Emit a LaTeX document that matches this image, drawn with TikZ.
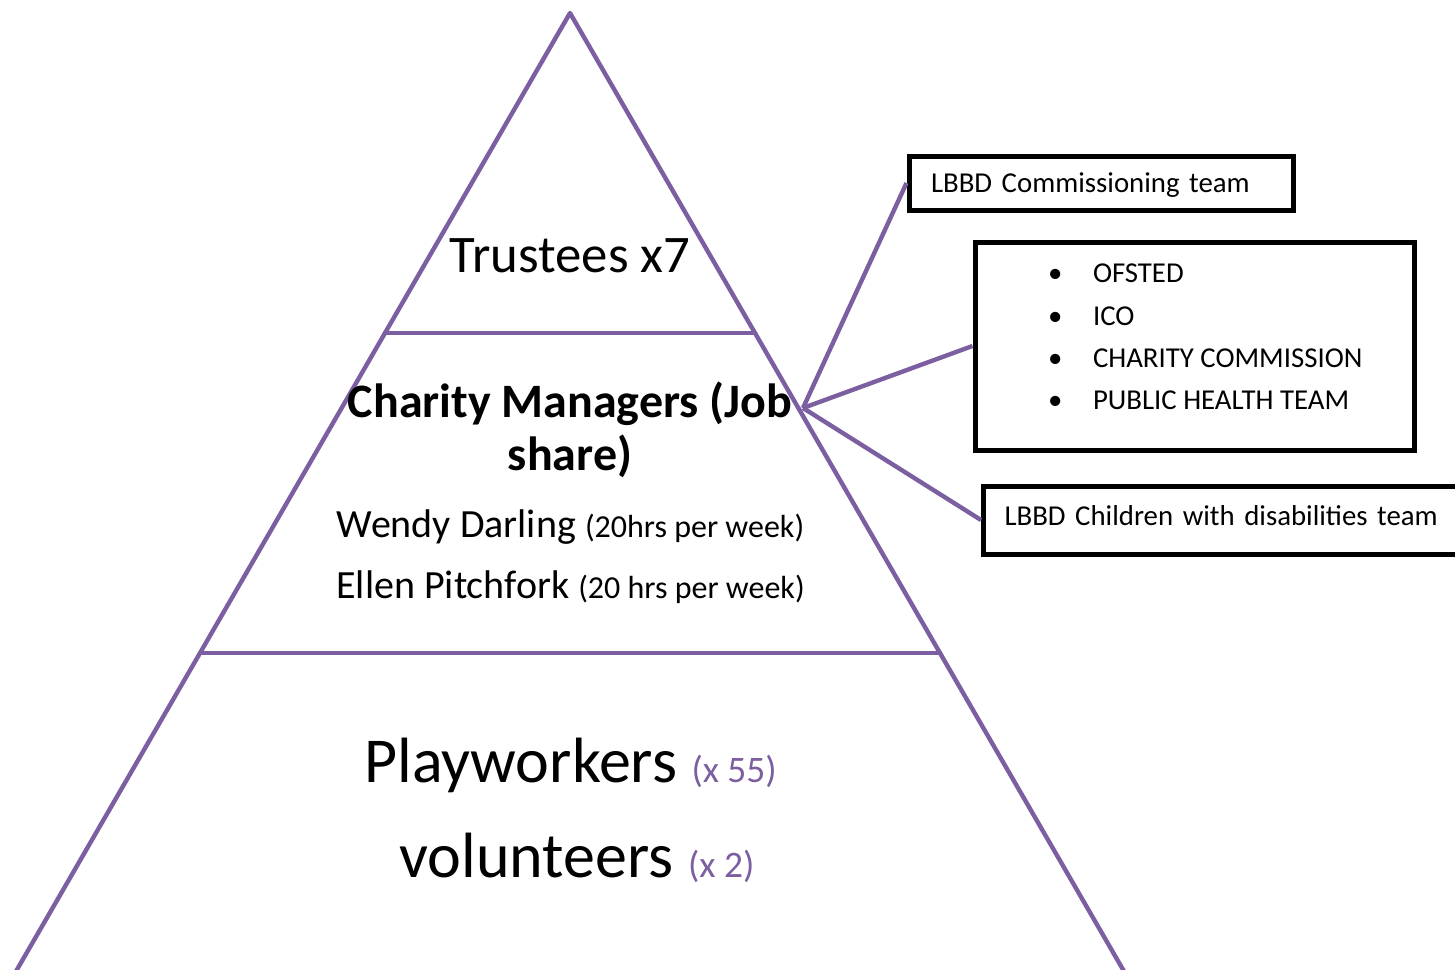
\documentclass[tikz,border=0pt]{standalone}
\usepackage{fontspec}
\setmainfont{Carlito}
\definecolor{pyr}{HTML}{7B5FA0}
\begin{document}
\begin{tikzpicture}[x=0.5pt,y=-0.5pt,
  pline/.style={draw=pyr, line width=2.2pt, line cap=round, line join=round},
  conn/.style={draw=pyr, line width=2.2pt},
  box/.style={draw=black, line width=2.5pt, rectangle, inner sep=0pt, anchor=west},
  boxfont/.style={font=\fontsize{14.4}{21.2}\selectfont},
  txt/.style={anchor=base, inner sep=0pt}]
\useasboundingbox (0,0) rectangle (1455,969);
\clip (0,0) rectangle (1455,969);
% pyramid
\draw[pline] (5.2,990) -- (570,13) -- (1134.8,990);
\draw[pline] (385,333) -- (755,333);
\draw[pline] (200,653) -- (940,653);
% pyramid texts
\node[txt, font=\fontsize{26.4}{31}\selectfont] (trustees) at (570,272) {Trustees x7};
\node[txt, align=center, font=\bfseries\fontsize{24}{26.5}\selectfont] (managers) at (570,470) {Charity Managers (Job\\share)};
\node[txt, font=\fontsize{20}{24}\selectfont] (wendy) at (570.5,537) {Wendy Darling {\fontsize{16}{19}\selectfont(20hrs per week)}};
\node[txt, font=\fontsize{20}{24}\selectfont] (ellen) at (570.5,598) {Ellen Pitchfork {\fontsize{16}{19}\selectfont(20 hrs per week)}};
\node[txt, font=\fontsize{32}{38}\selectfont] (play) at (570.5,782) {Playworkers {\fontsize{18.7}{22}\selectfont\color{pyr}(x 55)}};
\node[txt, font=\fontsize{32}{38}\selectfont] (vol) at (577,877) {volunteers {\fontsize{18.7}{22}\selectfont\color{pyr}(x 2)}};
% boxes
\node[box, boxfont, minimum width=192pt, minimum height=27pt, inner xsep=11pt, text width=170pt, align=left, text height=9.5pt, text depth=0pt] (commissioning) at (906.5,183) {LBBD Commissioning team};
\node[box, boxfont, minimum width=219.5pt, minimum height=104pt] (regulators) at (972.5,346) {\begin{minipage}{219.5pt}\raggedright
\hspace*{36.5pt}\makebox[22.5pt][l]{\textbullet}OFSTED\\
\hspace*{36.5pt}\makebox[22.5pt][l]{\textbullet}ICO\\
\hspace*{36.5pt}\makebox[22.5pt][l]{\textbullet}CHARITY COMMISSION\\
\hspace*{36.5pt}\makebox[22.5pt][l]{\textbullet}PUBLIC HEALTH TEAM\par\vspace{9pt}\end{minipage}};
\node[box, boxfont, minimum width=250pt, minimum height=34pt, inner xsep=10.5pt, text width=229pt, align=left, text height=9.5pt, text depth=4.5pt] (disabilities) at (981,520) {LBBD Children with disabilities team};
% connectors
\coordinate (hub) at (803,408);
\draw[conn] (hub) -- (commissioning.west);
\draw[conn] (hub) -- (regulators.west);
\draw[conn] (hub) -- (disabilities.west);
\end{tikzpicture}
\end{document}
